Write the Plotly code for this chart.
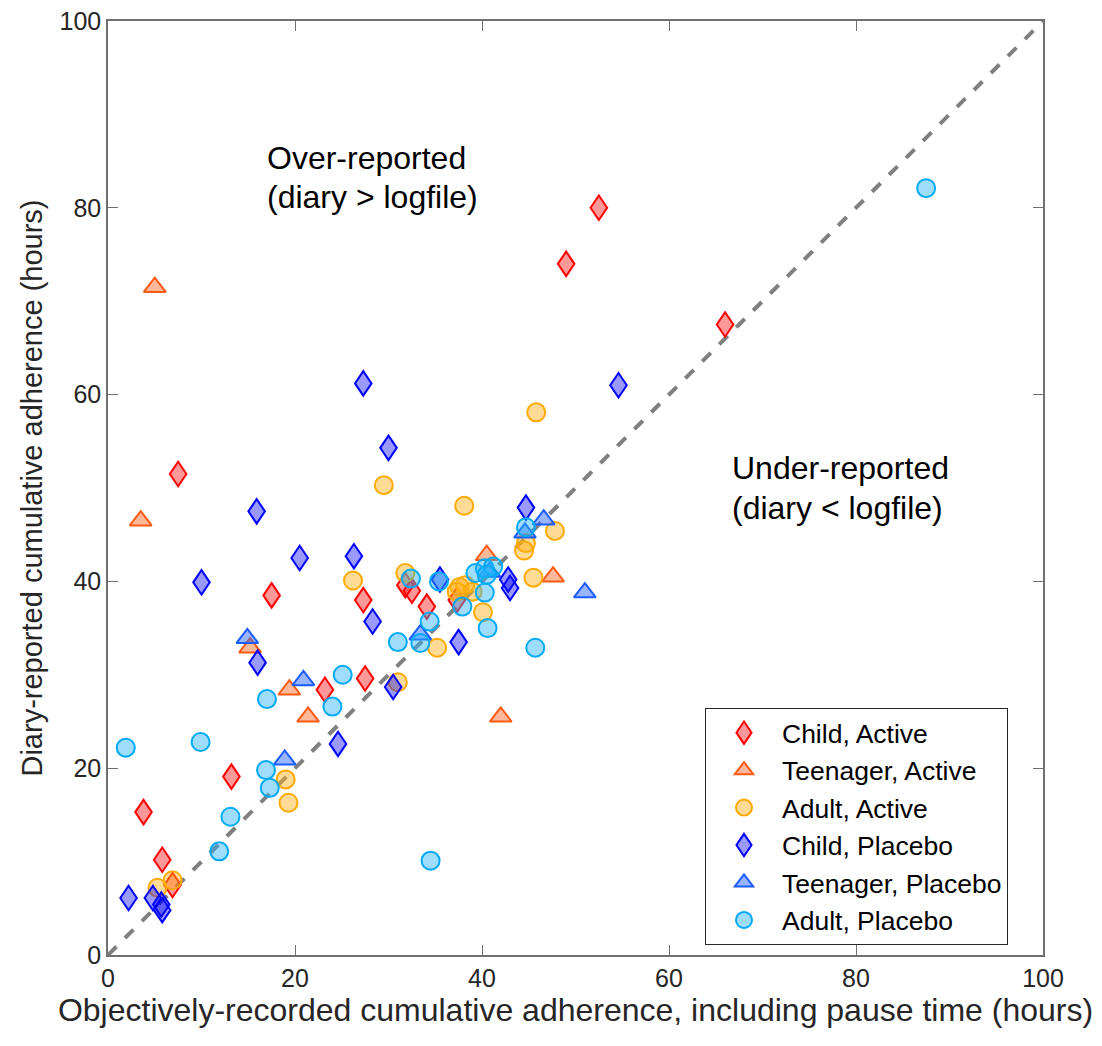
import plotly.graph_objects as go

# ---- data ----
child_active_x = [52.5, 49.0, 66.0, 7.5, 17.5, 27.3, 31.8, 32.5, 34.1, 37.3, 23.2, 27.5, 13.2, 3.8, 5.8, 6.9]
child_active_y = [80.0, 74.0, 67.5, 51.5, 38.5, 38.0, 39.6, 39.0, 37.3, 38.0, 28.4, 29.6, 19.1, 15.3, 10.2, 7.5]

teen_active_x = [5.0, 3.5, 15.2, 19.4, 21.4, 42.0, 47.6, 40.5]
teen_active_y = [71.5, 46.5, 32.9, 28.4, 25.5, 25.5, 40.5, 42.8]

adult_active_x = [45.8, 29.5, 38.1, 47.8, 44.7, 44.5, 26.2, 31.8, 37.6, 38.2, 39.0, 37.3, 40.1, 45.5, 35.2, 31.0, 19.0, 19.3, 5.3, 6.9]
adult_active_y = [58.1, 50.3, 48.1, 45.4, 44.1, 43.3, 40.1, 40.9, 39.4, 39.6, 38.9, 38.9, 36.7, 40.4, 32.9, 29.2, 18.8, 16.3, 7.2, 8.0]

child_placebo_x = [27.3, 54.6, 30.0, 44.7, 15.9, 26.3, 20.5, 10.0, 42.8, 43.0, 28.3, 37.5, 16.0, 30.5, 24.6, 35.5, 2.2, 4.8, 5.7, 5.8]
child_placebo_y = [61.2, 61.0, 54.3, 47.9, 47.5, 42.7, 42.5, 39.9, 40.2, 39.3, 35.7, 33.5, 31.3, 28.7, 22.6, 40.2, 6.1, 6.1, 5.4, 4.8]

teen_placebo_x = [14.9, 20.9, 18.9, 33.4, 44.6, 46.6, 51.0, 40.8]
teen_placebo_y = [33.9, 29.4, 20.9, 34.3, 45.2, 46.6, 38.8, 41.0]

adult_placebo_x = [87.5, 1.9, 9.9, 17.0, 25.1, 24.0, 16.9, 17.3, 13.1, 11.9, 34.5, 32.4, 31.0, 33.4, 34.4, 35.4, 37.9, 40.6, 45.7, 39.3, 40.3, 41.2, 40.5, 40.3, 44.7]
adult_placebo_y = [82.1, 22.2, 22.8, 27.4, 30.0, 26.6, 19.8, 17.9, 14.8, 11.1, 10.1, 40.3, 33.5, 33.4, 35.7, 40.0, 37.3, 35.0, 32.9, 40.9, 41.4, 41.6, 40.7, 38.8, 45.8]

diag = [0, 100]
ticks = [0, 20, 40, 60, 80, 100]

FONT = "Liberation Sans, Arial, Helvetica, sans-serif"
AXC = "#707070"

series = [
    ("Child, Active", child_active_x, child_active_y, "diamond-tall", "#FF0000", "rgba(255,0,0,0.4)", 17.5),
    ("Teenager, Active", teen_active_x, teen_active_y, "triangle-up", "#FF5A14", "rgba(255,100,30,0.45)", 19),
    ("Adult, Active", adult_active_x, adult_active_y, "circle", "#FFAA00", "rgba(255,175,20,0.45)", 18),
    ("Child, Placebo", child_placebo_x, child_placebo_y, "diamond-tall", "#0000FF", "rgba(0,0,255,0.4)", 17.5),
    ("Teenager, Placebo", teen_placebo_x, teen_placebo_y, "triangle-up", "#1A5CFF", "rgba(30,90,255,0.45)", 19),
    ("Adult, Placebo", adult_placebo_x, adult_placebo_y, "circle", "#00AAF5", "rgba(40,180,250,0.45)", 18),
]

fig = go.Figure()
fig.add_trace(go.Scatter(x=diag, y=diag, mode="lines",
                         line=dict(color="#808080", width=4, dash="dash"),
                         showlegend=False, hoverinfo="skip"))

for i, (name, xs, ys, sym, lc, fc, sz) in enumerate(series):
    fig.add_trace(go.Scatter(
        x=xs, y=ys, mode="markers", name=name,
        marker=dict(symbol=sym, size=sz, color=fc, line=dict(color=lc, width=2)),
    ))

axis_common = dict(
    range=[0, 100], tickvals=ticks, ticks="inside", ticklen=10, tickwidth=1,
    tickcolor=AXC, showline=True, linecolor=AXC, linewidth=1.5,
    mirror="ticks", showgrid=False, zeroline=False, automargin=False,
    ticklabeloverflow="allow",
    tickfont=dict(family=FONT, size=25, color="#262626"),
)

fig.update_xaxes(**axis_common,
                 title=dict(text="Objectively-recorded cumulative adherence, including pause time (hours)",
                            font=dict(family=FONT, size=32, color="#262626"), standoff=8))
fig.update_yaxes(**axis_common,
                 title=dict(text="Diary-reported cumulative adherence (hours)",
                            font=dict(family=FONT, size=29, color="#262626"), standoff=8))

ann_font = dict(family=FONT, size=32, color="#000000")
for x0, y0, txt in [(16.8, 85.3, "Over-reported"), (16.8, 81.2, "(diary > logfile)"),
                    (66.5, 52.1, "Under-reported"), (66.5, 47.9, "(diary < logfile)")]:
    fig.add_annotation(x=x0, y=y0, xref="x", yref="y", xanchor="left", yanchor="middle",
                       align="left", showarrow=False, text=txt, font=ann_font)

fig.update_layout(
    width=1094, height=1038,
    margin=dict(l=100, r=59, t=13, b=91),
    paper_bgcolor="white", plot_bgcolor="white",
    legend=dict(x=0.6385, y=0.2645, xanchor="left", yanchor="top",
                bordercolor="#262626", borderwidth=1, bgcolor="white",
                font=dict(family=FONT, size=26.5, color="#000000"),
                itemwidth=66, itemsizing="trace"),
    showlegend=True,
)

# widen the tall diamonds a little (MATLAB diamonds are less slender)
post = """
var gd = document.getElementById('{plot_id}');
gd.querySelectorAll('path.point, path.scatterpts').forEach(function(p){
  var d = p.getAttribute('d') || '';
  if (d.indexOf('M0,') === 0 && d.indexOf('A') < 0 && d.indexOf('H') < 0) {
    p.setAttribute('d', d.replace(/(-?[0-9.]+),(-?[0-9.]+)/g, function(m, a, b){
      return (parseFloat(a) * 1.35).toFixed(2) + ',' + b;
    }));
  }
});
"""

fig.write_html("out.html", post_script=post)
